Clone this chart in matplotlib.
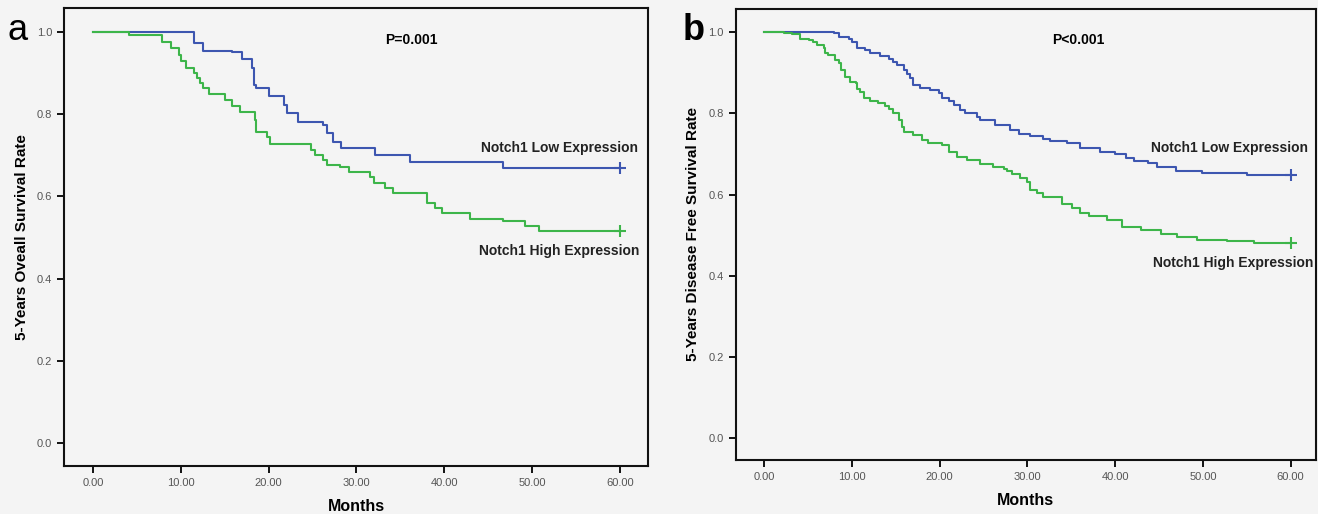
import matplotlib
matplotlib.use("Agg")
import matplotlib.pyplot as plt

plt.rcParams['font.family'] = ['Liberation Sans', 'DejaVu Sans']

# Panel a: overall survival (time in months, survival after each step)
a_low_t = [0, 11.5, 12.5, 15.8, 17.0, 18.1, 18.3, 18.6, 20.0, 21.7, 22.1, 23.3,
           26.2, 26.6, 27.3, 28.2, 32.1, 36.1, 46.7, 60]
a_low_s = [1.0, 0.974, 0.954, 0.950, 0.934, 0.912, 0.871, 0.864, 0.843, 0.822, 0.802, 0.780,
           0.774, 0.754, 0.733, 0.717, 0.700, 0.684, 0.668, 0.668]
a_high_t = [0, 4.1, 7.8, 8.85, 9.8, 10.0, 10.6, 11.5, 11.8, 12.2, 12.5, 13.25, 15.0, 15.8,
            16.7, 18.4, 18.6, 19.8, 20.2, 24.8, 25.3, 26.2, 26.6, 28.1, 29.1, 31.5, 32.0,
            33.3, 34.2, 38.0, 38.95, 39.7, 42.9, 46.7, 49.2, 50.8, 60]
a_high_s = [1.0, 0.992, 0.976, 0.960, 0.944, 0.928, 0.912, 0.899, 0.887, 0.875, 0.863, 0.849,
            0.835, 0.820, 0.804, 0.786, 0.757, 0.744, 0.727, 0.713, 0.701, 0.689, 0.675,
            0.671, 0.659, 0.646, 0.632, 0.620, 0.609, 0.583, 0.571, 0.559, 0.544, 0.541,
            0.528, 0.516, 0.516]

# Panel b: disease free survival
b_low_t = [0, 7.9, 8.55, 9.6, 10.0, 10.6, 11.5, 12.1, 13.2, 14.2, 14.7, 15.1, 15.9, 16.3,
           16.6, 16.9, 17.8, 18.9, 19.9, 20.3, 21.0, 21.6, 22.3, 22.9, 24.3, 24.6, 26.3,
           28.05, 29.0, 30.3, 31.8, 32.6, 34.5, 36.0, 38.3, 40.0, 41.2, 42.1, 43.8, 44.8,
           46.9, 49.9, 55.0, 60]
b_low_s = [1.0, 0.997, 0.988, 0.984, 0.976, 0.960, 0.956, 0.949, 0.941, 0.935, 0.927, 0.919,
           0.906, 0.898, 0.886, 0.869, 0.863, 0.857, 0.851, 0.837, 0.830, 0.820, 0.808,
           0.801, 0.791, 0.783, 0.771, 0.760, 0.750, 0.744, 0.738, 0.732, 0.726, 0.716,
           0.705, 0.701, 0.691, 0.683, 0.677, 0.668, 0.658, 0.653, 0.648, 0.648]
b_high_t = [0, 2.2, 3.2, 4.1, 5.05, 5.6, 6.0, 6.8, 6.95, 7.3, 8.1, 8.5, 8.7, 9.2, 9.8, 10.4,
            10.6, 10.9, 11.4, 12.1, 13.0, 13.8, 14.2, 14.7, 15.3, 15.7, 15.9, 17.0, 18.0,
            18.7, 20.3, 21.0, 22.0, 23.1, 24.6, 26.1, 27.3, 27.7, 28.2, 29.2, 29.95, 30.3,
            31.1, 31.8, 33.9, 35.1, 36.0, 37.0, 39.1, 40.8, 42.9, 45.2, 47.1, 49.3, 52.8,
            55.8, 60]
b_high_s = [1.0, 0.998, 0.995, 0.984, 0.980, 0.976, 0.968, 0.960, 0.948, 0.943, 0.931, 0.923,
            0.906, 0.890, 0.878, 0.874, 0.861, 0.853, 0.837, 0.831, 0.826, 0.818, 0.812,
            0.800, 0.783, 0.767, 0.754, 0.746, 0.734, 0.726, 0.722, 0.705, 0.693, 0.685,
            0.675, 0.668, 0.664, 0.658, 0.652, 0.640, 0.631, 0.611, 0.603, 0.594, 0.578,
            0.568, 0.555, 0.547, 0.537, 0.520, 0.514, 0.504, 0.496, 0.489, 0.486, 0.481, 0.481]

x_ticks = [0, 10, 20, 30, 40, 50, 60]
y_ticks = [0.0, 0.2, 0.4, 0.6, 0.8, 1.0]

blue = '#3d56b0'
green = '#3db54a'
bg = '#f4f4f4'

fig = plt.figure(figsize=(13.18, 5.14), dpi=100, facecolor=bg)
ax_a = fig.add_axes([0.0486, 0.0934, 0.4431, 0.891])
ax_b = fig.add_axes([0.5582, 0.1051, 0.4403, 0.8774])

panels = [
    (ax_a, a_low_t, a_low_s, a_high_t, a_high_s, (-3.3, 63.2), (-0.056, 1.058),
     '5-Years Oveall Survival Rate', 'P=0.001', 36.2, (62.0, 0.718), (62.2, 0.467)),
    (ax_b, b_low_t, b_low_s, b_high_t, b_high_s, (-3.26, 62.9), (-0.053, 1.057),
     '5-Years Disease Free Survival Rate', 'P<0.001', 35.8, (62.0, 0.714), (62.6, 0.431)),
]

for ax, lt, ls, ht, hs, xl, yl, ylab, ptxt, px, low_pos, high_pos in panels:
    ax.set_facecolor(bg)
    ax.step(lt, ls, where='post', color=blue, lw=1.5)
    ax.step(ht, hs, where='post', color=green, lw=1.5)
    # censor marks at the end of follow-up
    ax.plot(lt[-1], ls[-1], marker='+', color=blue, ms=8, mew=1.5)
    ax.plot(ht[-1], hs[-1], marker='+', color=green, ms=8, mew=1.5)

    ax.set_xlim(*xl)
    ax.set_ylim(*yl)
    ax.set_xticks(x_ticks)
    ax.set_xticklabels([f'{v:.2f}' for v in x_ticks])
    ax.set_yticks(y_ticks)
    ax.set_yticklabels([f'{v:.1f}' for v in y_ticks])
    ax.tick_params(direction='out', length=5, width=1.3, colors='black',
                   labelcolor='#555555', labelsize=8)
    for sp in ax.spines.values():
        sp.set_linewidth(1.5)
        sp.set_color('#111111')

    ax.set_ylabel(ylab, fontsize=11, fontweight='bold', labelpad=6)
    ax.set_xlabel('Months', fontsize=11.5, fontweight='bold', labelpad=8)

    ax.text(px, 0.98, ptxt, ha='center', va='center', fontsize=10, fontweight='bold')
    ax.text(low_pos[0], low_pos[1], 'Notch1 Low Expression', ha='right', va='center',
            fontsize=10, fontweight='bold', color='#222222')
    ax.text(high_pos[0], high_pos[1], 'Notch1 High Expression', ha='right', va='center',
            fontsize=10, fontweight='bold', color='#222222')

fig.text(0.006, 0.94, 'a', fontsize=26, ha='left', va='center')
fig.text(0.518, 0.94, 'b', fontsize=26, fontweight='bold', ha='left', va='center')

fig.savefig('out.png', dpi=100, facecolor=bg)
